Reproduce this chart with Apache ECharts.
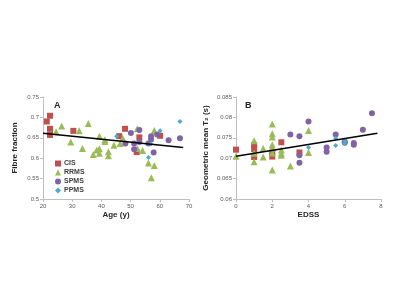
<!DOCTYPE html>
<html>
<head>
<meta charset="utf-8">
<script src="https://cdn.jsdelivr.net/npm/echarts@6/dist/echarts.min.js"></script>
<style>
  html, body { margin: 0; padding: 0; background: #fff; }
  #chart { width: 400px; height: 300px; }
</style>
</head>
<body>
<div id="chart"></div>
<script>
// panel A: age (y) vs fibre fraction
const cisA = [[21.3, 0.690], [22.4, 0.704], [22.4, 0.672], [22.4, 0.657], [30.4, 0.667],
    [46.1, 0.654], [48.1, 0.672], [53, 0.651], [52.1, 0.615], [60.1, 0.655]];
const rrmsA = [[24.5, 0.665], [26.4, 0.679], [29.5, 0.640], [32.4, 0.667], [33.5, 0.624],
    [35.5, 0.685], [37.2, 0.609], [38.4, 0.620], [39.3, 0.623], [39.3, 0.612], [39.3, 0.654],
    [41.2, 0.645], [41.2, 0.641], [42.4, 0.616], [42.4, 0.606], [44.3, 0.632], [46.4, 0.636],
    [47.3, 0.649], [52.3, 0.672], [52.3, 0.624], [54.1, 0.619], [58.1, 0.668], [56.1, 0.588],
    [58.1, 0.582], [57.1, 0.552]];
const spmsA = [[53, 0.669], [50.1, 0.662], [48.2, 0.636], [51.2, 0.636], [51.2, 0.622],
    [53, 0.640], [57, 0.654], [57, 0.646], [56.1, 0.636], [57.9, 0.614], [59.1, 0.658],
    [63, 0.644], [66.9, 0.649]];
const ppmsA = [[45.2, 0.654], [60.1, 0.667], [66.9, 0.690], [57, 0.635], [56.1, 0.602]];
const trendA = [[20, 0.661], [68, 0.626]];

// panel B: EDSS vs geometric mean T2 (s)
const cisB = [[0, 0.0721], [1, 0.0732], [1, 0.0722], [1, 0.0703], [2, 0.0714], [2, 0.0704],
    [2.5, 0.0739], [3.5, 0.0714]];
const rrmsB = [[0, 0.0705], [1, 0.0743], [1, 0.0712], [1, 0.0691], [1.5, 0.0724], [1.5, 0.0703],
    [2, 0.0784], [2, 0.0760], [2, 0.0752], [2, 0.0733], [2, 0.0725], [2, 0.0713], [2, 0.0671],
    [2.5, 0.0720], [2.5, 0.0712], [2.5, 0.0707], [3, 0.0681], [4, 0.0768], [4, 0.0714]];
const spmsB = [[3, 0.0758], [3.5, 0.0754], [3.5, 0.0689], [3.5, 0.0707], [4, 0.0790],
    [5, 0.0726], [5, 0.0716], [5.5, 0.0758], [6, 0.0741], [6, 0.0738], [6.5, 0.0737],
    [6.5, 0.0733], [7, 0.0770], [7.5, 0.0810]];
const ppmsB = [[4, 0.0726], [5.5, 0.0749], [5.5, 0.0731], [6, 0.0736], [6, 0.0743]];
const trendB = [[0, 0.0705], [7.8, 0.0761]];

const groups = ['CIS', 'RRMS', 'SPMS', 'PPMS'];
const colors = { CIS: '#C0504D', RRMS: '#9BBB59', SPMS: '#8064A2', PPMS: '#4BACC6' };
const symbols = { CIS: 'rect', RRMS: 'triangle', SPMS: 'circle', PPMS: 'diamond' };
const sizes = { CIS: 6, RRMS: 7, SPMS: 6, PPMS: 5 };

const chart = echarts.init(document.getElementById('chart'));

const axisCommon = {
    axisLine: { show: true, lineStyle: { color: '#bfbfbf', width: 1 } },
    axisTick: { show: true, length: 3, lineStyle: { color: '#bfbfbf' } },
    splitLine: { show: false },
    axisLabel: { fontSize: 6, color: '#595959', fontFamily: 'Liberation Sans', margin: 4 },
    nameTextStyle: { fontSize: 8, fontWeight: 'bold', color: '#262626', fontFamily: 'Liberation Sans' }
};

function scatter(name, data, idx) {
    return {
        name: name, type: 'scatter', xAxisIndex: idx, yAxisIndex: idx, data: data,
        symbol: symbols[name], symbolSize: sizes[name],
        itemStyle: { color: colors[name], opacity: 1 }
    };
}

function trend(data, idx) {
    return {
        type: 'line', xAxisIndex: idx, yAxisIndex: idx, data: data,
        showSymbol: false, silent: true,
        lineStyle: { color: '#000', width: 1.5 }
    };
}

const option = {
    animation: false,
    grid: [
        { left: 43, top: 97, width: 146, height: 102 },
        { left: 236, top: 97, width: 145, height: 102 }
    ],
    title: [
        { text: 'A', left: 49, top: 96, textStyle: { fontSize: 9, fontWeight: 'bold', color: '#262626' } },
        { text: 'B', left: 240, top: 96, textStyle: { fontSize: 9, fontWeight: 'bold', color: '#262626' } }
    ],
    legend: {
        data: groups.map(g => ({ name: g, icon: symbols[g] })),
        orient: 'vertical', left: 50, top: 155,
        itemWidth: 6, itemHeight: 6, itemGap: 2,
        textStyle: { fontSize: 7, fontWeight: 'bold', color: '#404040', padding: [0, 0, 0, -2] }
    },
    xAxis: [
        Object.assign({}, axisCommon, {
            gridIndex: 0, type: 'value', min: 20, max: 70, interval: 10,
            name: 'Age (y)', nameLocation: 'middle', nameGap: 12
        }),
        Object.assign({}, axisCommon, {
            gridIndex: 1, type: 'value', min: 0, max: 8, interval: 2,
            name: 'EDSS', nameLocation: 'middle', nameGap: 12
        })
    ],
    yAxis: [
        Object.assign({}, axisCommon, {
            gridIndex: 0, type: 'value', min: 0.5, max: 0.75, interval: 0.05,
            name: 'Fibre fraction', nameLocation: 'middle', nameGap: 24
        }),
        Object.assign({}, axisCommon, {
            gridIndex: 1, type: 'value', min: 0.06, max: 0.085, interval: 0.005,
            name: 'Geometric mean T₂ (s)', nameLocation: 'middle', nameGap: 26
        })
    ],
    series: [
        scatter('CIS', cisA, 0), scatter('RRMS', rrmsA, 0),
        scatter('SPMS', spmsA, 0), scatter('PPMS', ppmsA, 0),
        trend(trendA, 0),
        scatter('CIS', cisB, 1), scatter('RRMS', rrmsB, 1),
        scatter('SPMS', spmsB, 1), scatter('PPMS', ppmsB, 1),
        trend(trendB, 1)
    ]
};

chart.setOption(option);
</script>
</body>
</html>
